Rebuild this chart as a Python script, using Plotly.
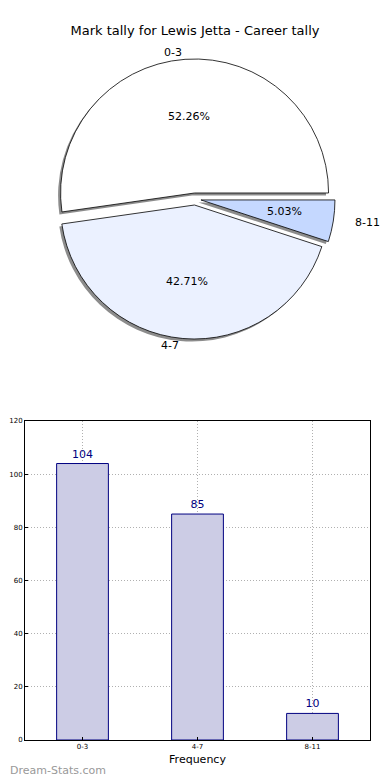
import math
import plotly.graph_objects as go

categories = ["0-3", "4-7", "8-11"]
counts = [104, 85, 10]
pie_colors = ["#ffffff", "#ebf1ff", "#c5d8ff"]
y_ticks = [0, 20, 40, 60, 80, 100, 120]

W, H = 390, 780
OFF = 8  # page body margin offset
FONT = "DejaVu Sans"

def px_x(x):
    return (x - OFF) / W

def px_y(y):
    return (H - (y - OFF)) / H

total = sum(counts)
# first slice starts at 3 o'clock and runs counterclockwise (matplotlib style)
rot = (90 - 360 * counts[0] / total) % 360

# pie placement (reference pixels)
cx, cy, r, pull = 195, 199, 134, 0.045
rx, ry = 140, 128  # text placement radii
half = r * (1 + pull)
dom_x = [px_x(cx - half), px_x(cx + half)]
dom_y = [px_y(cy + half), px_y(cy - half)]
sh = 2.5
dom_x_sh = [dom_x[0] - sh / W, dom_x[1] - sh / W]
dom_y_sh = [dom_y[0] - sh / H, dom_y[1] - sh / H]

fig = go.Figure()

common = dict(labels=categories, values=counts, sort=False,
              direction="counterclockwise", rotation=rot, pull=[pull] * 3,
              showlegend=False, textinfo="none")

# shadow
fig.add_trace(go.Pie(
    **common, domain=dict(x=dom_x_sh, y=dom_y_sh),
    marker=dict(colors=["rgba(0,0,0,0.45)"] * 3, line=dict(width=0)),
    hoverinfo="skip",
))
# main pie
fig.add_trace(go.Pie(
    **common, domain=dict(x=dom_x, y=dom_y),
    marker=dict(colors=pie_colors, line=dict(color="black", width=0.8)),
))

# pie texts (matplotlib style: pct at 0.6 r, labels at 1.1 r)
annotations = []
start = 0.0
for lab, v in zip(categories, counts):
    frac = v / total
    mid = math.radians((start + frac / 2) * 360)
    start += frac
    c, s = math.cos(mid), math.sin(mid)
    d = 0.6 + pull
    annotations.append(dict(
        text=f"{frac * 100:.2f}%", x=px_x(cx + d * rx * c), y=px_y(cy - d * ry * s),
        xref="paper", yref="paper", xanchor="center", yanchor="middle",
        showarrow=False, font=dict(family=FONT, size=11, color="black")))
    d = 1.1 + pull
    annotations.append(dict(
        text=lab, x=px_x(cx + d * rx * c), y=px_y(cy - d * ry * s),
        xref="paper", yref="paper", xanchor="left" if c > 0 else "right",
        yanchor="middle", showarrow=False,
        font=dict(family=FONT, size=11, color="black")))

annotations.append(dict(text="Dream-Stats.com", x=px_x(OFF), y=px_y(770),
                        xref="paper", yref="paper", xanchor="left", yanchor="middle",
                        showarrow=False,
                        font=dict(family=FONT, size=11, color="#999999")))

# bar chart
fig.add_trace(go.Bar(
    x=categories, y=counts, width=0.45,
    marker=dict(color="#ccccE5", line=dict(color="#000080", width=1)),
    text=counts, texttemplate="%{y}", textposition="outside",
    textfont=dict(family=FONT, size=11, color="#000080"),
    cliponaxis=False, showlegend=False,
    xaxis="x", yaxis="y",
))

grid = dict(showgrid=True, gridcolor="#b0b0b0", griddash="1px,2px", gridwidth=1,
            showline=True, linecolor="black", linewidth=1, mirror=True,
            ticks="inside", ticklen=3, tickcolor="black",
            tickfont=dict(family=FONT, size=7), zeroline=False,
            automargin=False)

fig.update_layout(
    width=W, height=H,
    margin=dict(l=0, r=0, t=0, b=0),
    paper_bgcolor="white", plot_bgcolor="white",
    font=dict(family=FONT, color="black"),
    title=dict(text="Mark tally for Lewis Jetta - Career tally",
               x=px_x(195), xanchor="center", y=px_y(30), yanchor="middle",
               font=dict(family=FONT, size=13, color="black")),
    xaxis=dict(domain=[px_x(25), px_x(370)], range=[-0.5, 2.5], **grid,
               title=dict(text="Frequency", font=dict(family=FONT, size=11), standoff=4),
               anchor="y"),
    yaxis=dict(domain=[px_y(740), px_y(421)], range=[0, 120], tickvals=y_ticks,
               **grid, anchor="x"),
    annotations=annotations,
)

fig.write_html("out.html")
